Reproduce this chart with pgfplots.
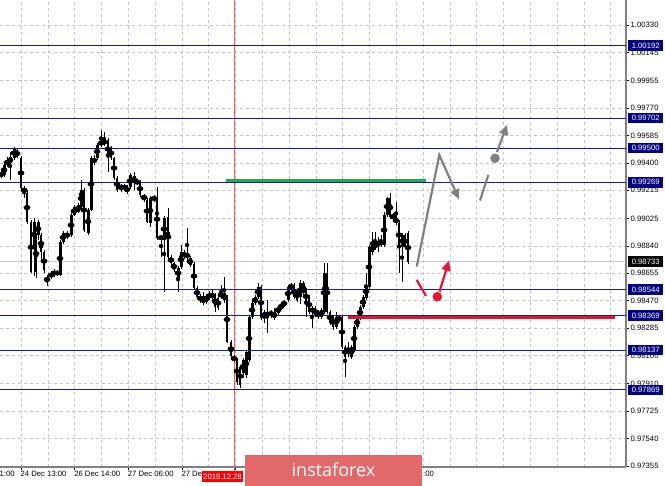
\documentclass[border=0pt]{standalone}
\usepackage{pgfplots}
\pgfplotsset{compat=1.18}
\usepackage{pgfplotstable}
\usetikzlibrary{arrows.meta}
\usepackage{fontspec}
\setmainfont{Liberation Sans}
\newfontfamily\bannerfont{Open Sans}
\definecolor{navyc}{RGB}{0,0,128}
\definecolor{levelc}{RGB}{28,28,145}
\definecolor{gridc}{RGB}{195,195,195}
\definecolor{axisc}{RGB}{128,128,128}
\definecolor{greenc}{RGB}{40,170,80}
\definecolor{redc}{RGB}{228,20,48}
\definecolor{vlinec}{RGB}{240,90,90}
\definecolor{arrowgray}{RGB}{128,128,128}
\definecolor{bannerc}{RGB}{225,105,105}
\definecolor{pricec}{RGB}{200,200,200}

\pgfplotstableread{
x o h l c
1 0.99332 0.99352 0.99298 0.99312
4 0.99318 0.99406 0.99305 0.99386
7 0.99386 0.99440 0.99372 0.99420
10 0.99399 0.99474 0.99285 0.99440
14 0.99433 0.99507 0.99420 0.99501
17 0.99487 0.99501 0.99433 0.99440
21 0.99433 0.99447 0.99217 0.99231
24 0.99231 0.99244 0.99163 0.99204
27 0.99197 0.99217 0.98988 0.99001
31 0.99001 0.99015 0.98657 0.98664
34 0.98833 0.99028 0.98637 0.99001
36 0.98914 0.98927 0.98624 0.98664
38 0.98914 0.99015 0.98880 0.99001
41 0.98914 0.98927 0.98745 0.98799
44 0.98799 0.98813 0.98657 0.98678
47 0.98597 0.98644 0.98570 0.98630
51 0.98630 0.98671 0.98617 0.98657
54 0.98644 0.98684 0.98630 0.98671
57 0.98664 0.98678 0.98637 0.98651
60 0.98644 0.98880 0.98637 0.98867
63 0.98867 0.98941 0.98853 0.98927
67 0.98927 0.98941 0.98887 0.98900
71 0.98914 0.99062 0.98900 0.99049
74 0.99049 0.99116 0.99042 0.99103
78 0.99069 0.99130 0.99062 0.99116
81 0.99103 0.99285 0.99089 0.99217
84 0.99217 0.99231 0.98934 0.98947
88 0.98927 0.99096 0.98914 0.99082
91 0.99082 0.99447 0.99076 0.99433
94 0.99433 0.99453 0.99386 0.99399
97 0.99433 0.99534 0.99420 0.99521
101 0.99521 0.99622 0.99507 0.99548
104 0.99548 0.99608 0.99514 0.99534
108 0.99555 0.99568 0.99339 0.99433
111 0.99501 0.99514 0.99420 0.99433
114 0.99433 0.99440 0.99285 0.99298
117 0.99298 0.99312 0.99204 0.99217
121 0.99224 0.99258 0.99204 0.99244
124 0.99244 0.99258 0.99217 0.99231
127 0.99237 0.99251 0.99190 0.99204
130 0.99237 0.99332 0.99224 0.99318
134 0.99265 0.99339 0.99217 0.99312
137 0.99265 0.99291 0.99251 0.99278
140 0.99271 0.99285 0.99170 0.99184
144 0.99184 0.99190 0.99136 0.99150
147 0.99150 0.99163 0.98995 0.99001
150 0.98995 0.99177 0.98968 0.99163
154 0.99150 0.99184 0.99136 0.99170
157 0.99150 0.99237 0.98880 0.98893
161 0.98900 0.98914 0.98765 0.98893
164 0.98880 0.99042 0.98529 0.99028
168 0.99035 0.99096 0.98752 0.98765
171 0.98765 0.98779 0.98711 0.98725
174 0.98725 0.98732 0.98664 0.98678
178 0.98624 0.98705 0.98529 0.98691
181 0.98698 0.98846 0.98684 0.98799
184 0.98765 0.98813 0.98752 0.98799
187 0.98779 0.98961 0.98732 0.98772
190 0.98711 0.98772 0.98698 0.98759
194 0.98718 0.98732 0.98543 0.98556
197 0.98556 0.98570 0.98482 0.98495
200 0.98502 0.98516 0.98455 0.98475
203 0.98455 0.98529 0.98441 0.98502
206 0.98462 0.98516 0.98448 0.98502
209 0.98489 0.98536 0.98475 0.98516
212 0.98489 0.98543 0.98475 0.98522
215 0.98509 0.98522 0.98394 0.98428
218 0.98489 0.98502 0.98408 0.98421
221 0.98495 0.98576 0.98482 0.98522
224 0.98475 0.98630 0.98455 0.98522
227 0.98495 0.98509 0.98185 0.98192
231 0.98192 0.98205 0.98070 0.98097
234 0.98091 0.98104 0.98057 0.98070
237 0.98070 0.98084 0.97902 0.97922
240 0.98023 0.98037 0.97882 0.97902
243 0.97983 0.98084 0.97949 0.98070
246 0.97969 0.98138 0.97949 0.98124
249 0.98070 0.98374 0.98057 0.98360
252 0.98360 0.98475 0.98347 0.98455
255 0.98455 0.98509 0.98441 0.98495
258 0.98495 0.98590 0.98482 0.98563
261 0.98563 0.98576 0.98340 0.98354
264 0.98394 0.98408 0.98320 0.98354
267 0.98367 0.98475 0.98253 0.98394
271 0.98394 0.98408 0.98354 0.98374
274 0.98354 0.98421 0.98340 0.98394
278 0.98387 0.98441 0.98374 0.98428
281 0.98421 0.98455 0.98408 0.98441
284 0.98441 0.98475 0.98428 0.98462
288 0.98475 0.98576 0.98462 0.98563
291 0.98556 0.98590 0.98543 0.98576
294 0.98563 0.98590 0.98482 0.98495
297 0.98536 0.98549 0.98462 0.98475
300 0.98495 0.98610 0.98448 0.98590
303 0.98522 0.98603 0.98509 0.98590
306 0.98543 0.98556 0.98360 0.98455
309 0.98495 0.98509 0.98381 0.98394
312 0.98394 0.98435 0.98286 0.98421
315 0.98421 0.98435 0.98360 0.98374
318 0.98394 0.98408 0.98347 0.98360
321 0.98360 0.98421 0.98347 0.98408
324 0.98394 0.98725 0.98381 0.98657
327 0.98657 0.98725 0.98381 0.98394
330 0.98394 0.98408 0.98307 0.98320
333 0.98360 0.98374 0.98273 0.98293
336 0.98293 0.98394 0.98280 0.98360
339 0.98340 0.98374 0.98327 0.98360
342 0.98360 0.98374 0.98145 0.98158
345 0.98158 0.98172 0.97956 0.98091
348 0.98124 0.98192 0.98091 0.98151
351 0.98091 0.98172 0.98077 0.98158
354 0.98138 0.98307 0.98124 0.98293
357 0.98293 0.98367 0.98280 0.98354
360 0.98354 0.98441 0.98340 0.98428
363 0.98428 0.98509 0.98415 0.98495
366 0.98489 0.98657 0.98475 0.98576
369 0.98563 0.98846 0.98549 0.98833
372 0.98799 0.98934 0.98779 0.98846
375 0.98826 0.98934 0.98813 0.98860
378 0.98846 0.98900 0.98799 0.98867
381 0.98880 0.98914 0.98833 0.98846
384 0.98846 0.99069 0.98833 0.99049
387 0.99049 0.99170 0.99035 0.99163
390 0.99163 0.99197 0.99022 0.99035
393 0.99049 0.99062 0.99015 0.99028
396 0.99028 0.99136 0.98981 0.98995
399 0.98995 0.99015 0.98657 0.98833
402 0.98833 0.98927 0.98597 0.98914
405 0.98914 0.98927 0.98819 0.98833
408 0.98927 0.98941 0.98718 0.98732
}\candles

\pgfplotsset{candlebar/.style={only marks, mark=none, error bars/.cd, y dir=both, y explicit,
  error mark=none}}

\begin{document}
\begin{tikzpicture}
\begin{axis}[
  scale only axis, width=626pt, height=467pt,
  xmin=0, xmax=626, ymin=0.97348, ymax=1.00499,
  clip=false,
  axis x line*=bottom, axis y line*=right,
  axis line style={axisc, line width=1.2pt},
  tick align=outside, major tick length=3pt, minor tick length=0pt,
  tick style={black, line width=0.6pt},
  xtick={21,74.6,128.2,181.8,235.4,289,342.6,396.2},
  xticklabels={24 Dec 13:00,26 Dec 14:00,27 Dec 06:00,27 De,,,,},
  minor xtick={47.8,101.4,155,208.6,262.2,315.8,369.4,423,449.8,476.6,503.4,530.2,557,583.8,610.6},
  ytick={0.97355,0.97540,0.97725,0.97910,0.98100,0.98285,0.98470,0.98655,0.98840,0.99025,0.99215,0.99400,0.99585,0.99770,0.99955,1.00145,1.00330},
  yticklabels={0.97355,0.97540,0.97725,0.97910,0.98100,0.98285,0.98470,0.98655,0.98840,0.99025,0.99215,0.99400,0.99585,0.99770,0.99955,1.00145,1.00330},
  grid=both,
  major grid style={gridc, dash pattern=on 3pt off 3pt, line width=0.6pt},
  minor grid style={gridc, dash pattern=on 3pt off 3pt, line width=0.6pt},
  xticklabel style={anchor=north west, inner sep=0pt, font=\fontsize{7.7}{8}\selectfont, xshift=-0.5pt, yshift=-1pt},
  yticklabel style={anchor=west, inner sep=0pt, font=\fontsize{7.7}{8}\selectfont, xshift=1.5pt},
]
% current price line
\addplot[pricec, line width=0.8pt] coordinates {(0,0.98733) (626,0.98733)};
% red vertical line
\addplot[vlinec, line width=0.8pt] coordinates {(234.5,1.00499) (234.5,0.97300)};
% candles: wicks (high-low)
\addplot[candlebar, error bar style={black, line width=0.6pt}]
  table[x=x, y expr={(\thisrow{h}+\thisrow{l})/2}, y error expr={(\thisrow{h}-\thisrow{l})/2}] {\candles};
% falling candles: filled black bodies
\addplot[candlebar, error bar style={black, line width=2.6pt}]
  table[x=x, y expr={(\thisrow{o}+\thisrow{c})/2}, y error expr={max((\thisrow{o}-\thisrow{c})/2,0)}] {\candles};
% rising candles: outlined bodies (left edge, right edge, and caps)
\addplot[candlebar, error bar style={black, line width=0.6pt}]
  table[x expr={\thisrow{x}-1.1}, y expr={(\thisrow{o}+\thisrow{c})/2}, y error expr={max((\thisrow{c}-\thisrow{o})/2,0)}] {\candles};
\addplot[candlebar, error bar style={black, line width=0.6pt}]
  table[x expr={\thisrow{x}+1.1}, y expr={(\thisrow{o}+\thisrow{c})/2}, y error expr={max((\thisrow{c}-\thisrow{o})/2,0)}] {\candles};
\addplot[only marks, mark=none, error bars/.cd, y dir=both, y explicit, error mark=-,
  error mark options={black, line width=0.6pt, mark size=1.4pt}, error bar style={black, line width=0.6pt}]
  table[x=x, y expr={(\thisrow{o}+\thisrow{c})/2}, y error expr={max((\thisrow{c}-\thisrow{o})/2,0)}] {\candles};
% level lines
\addplot[levelc, line width=0.8pt] coordinates {(0,1.00192) (626,1.00192)};
\addplot[levelc, line width=0.8pt] coordinates {(0,0.99702) (626,0.99702)};
\addplot[levelc, line width=0.8pt] coordinates {(0,0.99500) (626,0.99500)};
\addplot[levelc, line width=0.8pt] coordinates {(0,0.99269) (626,0.99269)};
\addplot[levelc, line width=0.8pt] coordinates {(0,0.98544) (626,0.98544)};
\addplot[levelc, line width=0.8pt] coordinates {(0,0.98369) (626,0.98369)};
\addplot[levelc, line width=0.8pt] coordinates {(0,0.98137) (626,0.98137)};
\addplot[levelc, line width=0.8pt] coordinates {(0,0.97869) (626,0.97869)};
% green and red segments
\addplot[greenc, line width=3pt] coordinates {(226,0.99278) (426,0.99278)};
\addplot[redc, line width=3pt] coordinates {(348,0.98357) (615,0.98357)};
% gray forecast
\addplot[arrowgray, line width=2.2pt, -{Triangle[length=10pt,width=9pt]}] coordinates {(416.7,0.98700) (439.3,0.99453) (459,0.99154)};
\addplot[arrowgray, line width=2.2pt] coordinates {(480,0.99145) (488.3,0.99318)};
\addplot[arrowgray, only marks, mark=*, mark size=4.5pt] coordinates {(495,0.99431)};
\addplot[arrowgray, line width=2.2pt, -{Triangle[length=10pt,width=9pt]}] coordinates {(497,0.99473) (507,0.99656)};
% red forecast
\addplot[redc, line width=2.2pt] coordinates {(416.7,0.98610) (426,0.98502)};
\addplot[redc, only marks, mark=*, mark size=4.5pt] coordinates {(437.3,0.98497)};
\addplot[redc, line width=2.2pt, -{Triangle[length=10pt,width=9pt]}] coordinates {(439.5,0.98531) (449,0.98740)};
% top border
\draw[black, line width=1pt] (rel axis cs:0,1) -- (rel axis cs:1,1);
% named points for overlays
\coordinate (TL) at (axis cs:0,1.00499);
\coordinate (BR) at (axis cs:665,0.972198);
\coordinate (B1) at (axis cs:245,0.974293);
\coordinate (B2) at (axis cs:422,0.972198);
\coordinate (BC) at (axis cs:333.5,0.973281);
\coordinate (DB) at (axis cs:222.5,0.972808);
\coordinate (X0) at (axis cs:-0.5,0.97348);
\coordinate (X9) at (axis cs:423,0.97348);
\coordinate (L1) at (axis cs:626,1.00192);
\coordinate (L2) at (axis cs:626,0.99702);
\coordinate (L3) at (axis cs:626,0.99500);
\coordinate (L4) at (axis cs:626,0.99269);
\coordinate (L5) at (axis cs:626,0.98544);
\coordinate (L6) at (axis cs:626,0.98369);
\coordinate (L7) at (axis cs:626,0.98137);
\coordinate (L8) at (axis cs:626,0.97869);
\coordinate (LP) at (axis cs:626,0.98733);
\end{axis}
% overlays above the tick labels
\tikzset{pb/.style={fill=navyc, text=white, anchor=west, xshift=2pt, minimum width=35pt, minimum height=10.5pt, inner sep=0pt, font=\fontsize{7.7}{8}\selectfont}}
\node[pb] at (L1) {1.00192};
\node[pb] at (L2) {0.99702};
\node[pb] at (L3) {0.99500};
\node[pb] at (L4) {0.99269};
\node[pb] at (L5) {0.98544};
\node[pb] at (L6) {0.98369};
\node[pb] at (L7) {0.98137};
\node[pb] at (L8) {0.97869};
\node[pb, fill=black] at (LP) {0.98733};
\node[anchor=north west, inner sep=0pt, font=\fontsize{7.7}{8}\selectfont, yshift=-4pt] at (X0) {1:00};
\node[anchor=north west, inner sep=0pt, font=\fontsize{7.7}{8}\selectfont, yshift=-4pt] at (X9) {:00};
\node[fill=red, text=white, inner sep=0pt, minimum width=41pt, minimum height=11pt, font=\fontsize{7.7}{8}\selectfont] at (DB) {2018.12.28};
\fill[bannerc] (B1) rectangle (B2);
\node[text=white, inner sep=0pt, font=\bannerfont\fontsize{18}{18}\selectfont] at (BC) {instaforex};
\pgfresetboundingbox
\path[use as bounding box] (TL) rectangle (BR);
\end{tikzpicture}
\end{document}
